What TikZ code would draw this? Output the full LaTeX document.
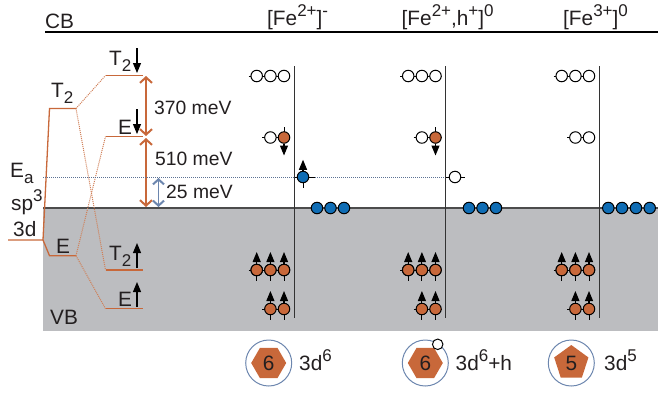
\documentclass[tikz,border=0pt]{standalone}
\usepackage{fontspec}
\setmainfont{Liberation Sans}
\usetikzlibrary{arrows.meta,shapes.geometric}
\definecolor{FeOrange}{RGB}{200,104,58}
\definecolor{FeBlue}{RGB}{15,109,181}
\definecolor{BandGray}{RGB}{188,189,192}
\definecolor{RingBlue}{RGB}{108,134,174}
\definecolor{InkGray}{RGB}{35,31,32}
\newcommand{\upidx}[1]{\raisebox{0.42em}{\fontsize{17}{17}\selectfont #1}}
\newcommand{\lowidx}[1]{\raisebox{-0.3em}{\fontsize{17}{17}\selectfont #1}}
\tikzset{
  label/.style={inner sep=0pt,anchor=base west,text=InkGray,font=\fontsize{20.8}{22}\selectfont},
  gaplabel/.style={label,font=\fontsize{19.3}{22}\selectfont},
  atomtext/.style={inner sep=0pt,fill=FeOrange,text=InkGray,font=\fontsize{20.8}{22}\selectfont},
  level/.style={FeOrange,line width=1.3pt},
  split/.style={FeOrange!85!white,line width=1pt,dash pattern=on 1pt off 1pt},
  gap/.style={{Straight Barb[length=5.5pt,width=12pt,line width=2pt]}-{Straight Barb[length=5.5pt,width=12pt,line width=2pt]},FeOrange,line width=1.3pt},
  smallgap/.style={{Straight Barb[length=5pt,width=11pt,line width=2pt]}-{Straight Barb[length=5pt,width=11pt,line width=2pt]},RingBlue,line width=1.3pt},
  spin/.style={-{Triangle[length=10pt,width=8pt]},black,line width=1.1pt},
  tick/.style={black,line width=0.9pt},
  empty/.style={circle,draw=black,fill=white,line width=1pt,minimum size=11.5pt,inner sep=0pt},
  full/.style={empty,fill=FeOrange},
  hole/.style={empty,fill=FeBlue},
  ring/.style={circle,draw=RingBlue,line width=1pt,minimum size=46pt,inner sep=0pt},
  acceptor/.style={RingBlue!85!black,line width=0.9pt,dash pattern=on 1pt off 1pt},
}
\begin{document}
\begin{tikzpicture}[x=1pt,y=-1pt,>=Latex]
  \useasboundingbox (0,0) rectangle (658,392);
  \fill[BandGray] (43,208) rectangle (658,331);
  \draw[black,line width=1.2pt] (45,32)--(658,32);
  \draw[black!70,line width=1.8pt] (43,208)--(658,208);
  % levels
  \coordinate (dL) at (8,240);
  \coordinate (dR) at (43,240);
  \coordinate (tL) at (49.5,108.5);
  \coordinate (tR) at (76,108.5);
  \coordinate (eL) at (49.5,255.7);
  \coordinate (eR) at (76,255.7);
  \coordinate (tdnL) at (105.5,75.5);
  \coordinate (tdnR) at (143,75.5);
  \coordinate (ednL) at (105.5,136.5);
  \coordinate (ednR) at (143,136.5);
  \coordinate (tupL) at (105.5,270);
  \coordinate (tupR) at (143,270);
  \coordinate (eupL) at (105.5,308.7);
  \coordinate (eupR) at (143,308.7);
  \draw[level] (dL)--(dR)--(tL)--(tR);
  \draw[level] (dR)--(eL)--(eR);
  \draw[level] (tdnL)--(tdnR);
  \draw[level] (ednL)--(ednR);
  \draw[level] (tupL)--(tupR);
  \draw[level] (eupL)--(eupR);
  \draw[split] (tR)--(tdnL);
  \draw[split] (tR)--(tupL);
  \draw[split] (eR)--(ednL);
  \draw[split] (eR)--(eupL);
  % energy gaps
  \coordinate (gapA) at (146,76);
  \coordinate (gapB) at (146,136);
  \coordinate (gapC) at (146,138);
  \coordinate (gapD) at (146,207);
  \coordinate (gapE) at (158.5,178);
  \coordinate (gapF) at (158.5,207);
  \draw[gap] (gapA)--(gapB);
  \draw[gap] (gapC)--(gapD);
  \draw[smallgap] (gapE)--(gapF);
  % spin labels of the levels
  \coordinate (sa) at (137,48);
  \coordinate (sb) at (137,73);
  \coordinate (sc) at (137,109);
  \coordinate (sd) at (137,134);
  \coordinate (se) at (137,268);
  \coordinate (sf) at (137,243);
  \coordinate (sg) at (137,307);
  \coordinate (sh) at (137,282);
  \draw[spin] (sa)--(sb);
  \draw[spin] (sc)--(sd);
  \draw[spin] (se)--(sf);
  \draw[spin] (sg)--(sh);
  \node[label] (cb) at (45,28) {CB};
  \node[label] (vb) at (50,324) {VB};
  \node[label] (ea) at (10,177) {E\lowidx{a}};
  \node[label] (sp) at (11,210) {sp\upidx{3}};
  \node[label] (dd) at (13,236) {3d};
  \node[label] (tt) at (51,97) {T\lowidx{2}};
  \node[label] (ee) at (56,253) {E};
  \node[label] (ttdn) at (109,65) {T\lowidx{2}};
  \node[label] (eedn) at (118,134) {E};
  \node[label] (ttup) at (109,260) {T\lowidx{2}};
  \node[label] (eeup) at (118,306.5) {E};
  \node[gaplabel] (gl) at (154,114) {370 meV};
  \node[gaplabel] (gm) at (155,165) {510 meV};
  \node[gaplabel] (gs) at (166,198) {25 meV};
  \node[label] (ha) at (267,25) {[Fe\upidx{2+}]\upidx{-}};
  \node[label] (hb) at (401.5,25) {[Fe\upidx{2+},h\upidx{+}]\upidx{0}};
  \node[label] (hc) at (563,25) {[Fe\upidx{3+}]\upidx{0}};
  % acceptor level
  \coordinate (acL) at (43,177);
  \node[hole] (acc) at (303,177) {};
  \node[empty] (ach) at (455,177) {};
  \draw[acceptor] (acL)--(acc);
  \draw[acceptor] (acc)--(ach);
  \draw[tick] (acc.west)--++(-3,0) (acc.east)--++(6,0);
  \draw[tick] (ach.west)--++(-4,0) (ach.east)--++(4,0);
  \draw[tick] (acc.south)--++(0,5);
  \draw[spin] (acc.north)--++(0,-11);
  % three columns
  \foreach \dx/\col in {0/a,151.5/b,305/c}{
    \begin{scope}[xshift=\dx pt]
      \coordinate (bar\col a) at (294.3,66);
      \coordinate (bar\col b) at (294.3,318);
      \draw[black!80,line width=0.9pt] (bar\col a)--(bar\col b);
      \coordinate (rowa\col) at (248.5,76);
      \coordinate (rowb\col) at (290,76);
      \draw[tick] (rowa\col)--(rowb\col);
      \foreach \x/\n in {256.7/1,270.4/2,284/3}{
        \node[empty] (top\col\n) at (\x,76) {};
        \draw[tick] (\x,264)--(\x,281);
        \node[full] (mid\col\n) at (\x,270) {};
        \draw[spin] (mid\col\n.north)--(\x,252);
      }
      \draw[tick] (248.5,270)--(290,270);
      \foreach \n in {1,2,3}{\node[full] at (mid\col\n) {};}
      \draw[tick] (262,309)--(290,309);
      \foreach \x/\n in {270.4/1,284/2}{
        \draw[tick] (\x,303)--(\x,320);
        \node[full] (low\col\n) at (\x,309) {};
        \draw[spin] (low\col\n.north)--(\x,291);
      }
    \end{scope}
  }
  % second level from the top
  \foreach \dx/\col in {0/a,151.5/b}{
    \begin{scope}[xshift=\dx pt]
      \draw[tick] (262,137.5)--(290,137.5) (284,127)--(284,132);
      \node[empty] (ew\col) at (270.4,137.5) {};
      \node[full] (ef\col) at (284,137.5) {};
      \draw[spin] (ef\col.south)--(284,155.5);
    \end{scope}
  }
  \coordinate (ecL) at (567,137.5);
  \coordinate (ecR) at (595,137.5);
  \draw[tick] (ecL)--(ecR);
  \node[empty] (eca) at (575.4,137.5) {};
  \node[empty] (ecb) at (589,137.5) {};
  % valence band holes
  \foreach \x/\n in {317/1,330.5/2,344/3,469/4,482.5/5,496/6,608.3/7,622/8,636/9,649.7/10}{
    \node[hole] (vb\n) at (\x,208) {};
  }
  % Fe atoms
  \node[ring] (atoma) at (268.7,363) {};
  \node[regular polygon,regular polygon sides=6,minimum size=35pt,atomtext] (hexa) at (atoma) {6};
  \node[ring] (atomb) at (425.3,363) {};
  \node[regular polygon,regular polygon sides=6,minimum size=35pt,atomtext] (hexb) at (atomb) {6};
  \node[empty,minimum size=10.5pt] (atomh) at (437.7,344.3) {};
  \node[ring] (atomc) at (571.3,363) {};
  \node[regular polygon,regular polygon sides=5,minimum size=36pt,atomtext] (pent) at (atomc) {5};
  \node[label] (cfga) at (299,370) {3d\upidx{6}};
  \node[label] (cfgb) at (455.5,370) {3d\upidx{6}+h};
  \node[label] (cfgc) at (604,370) {3d\upidx{5}};
\end{tikzpicture}
\end{document}
